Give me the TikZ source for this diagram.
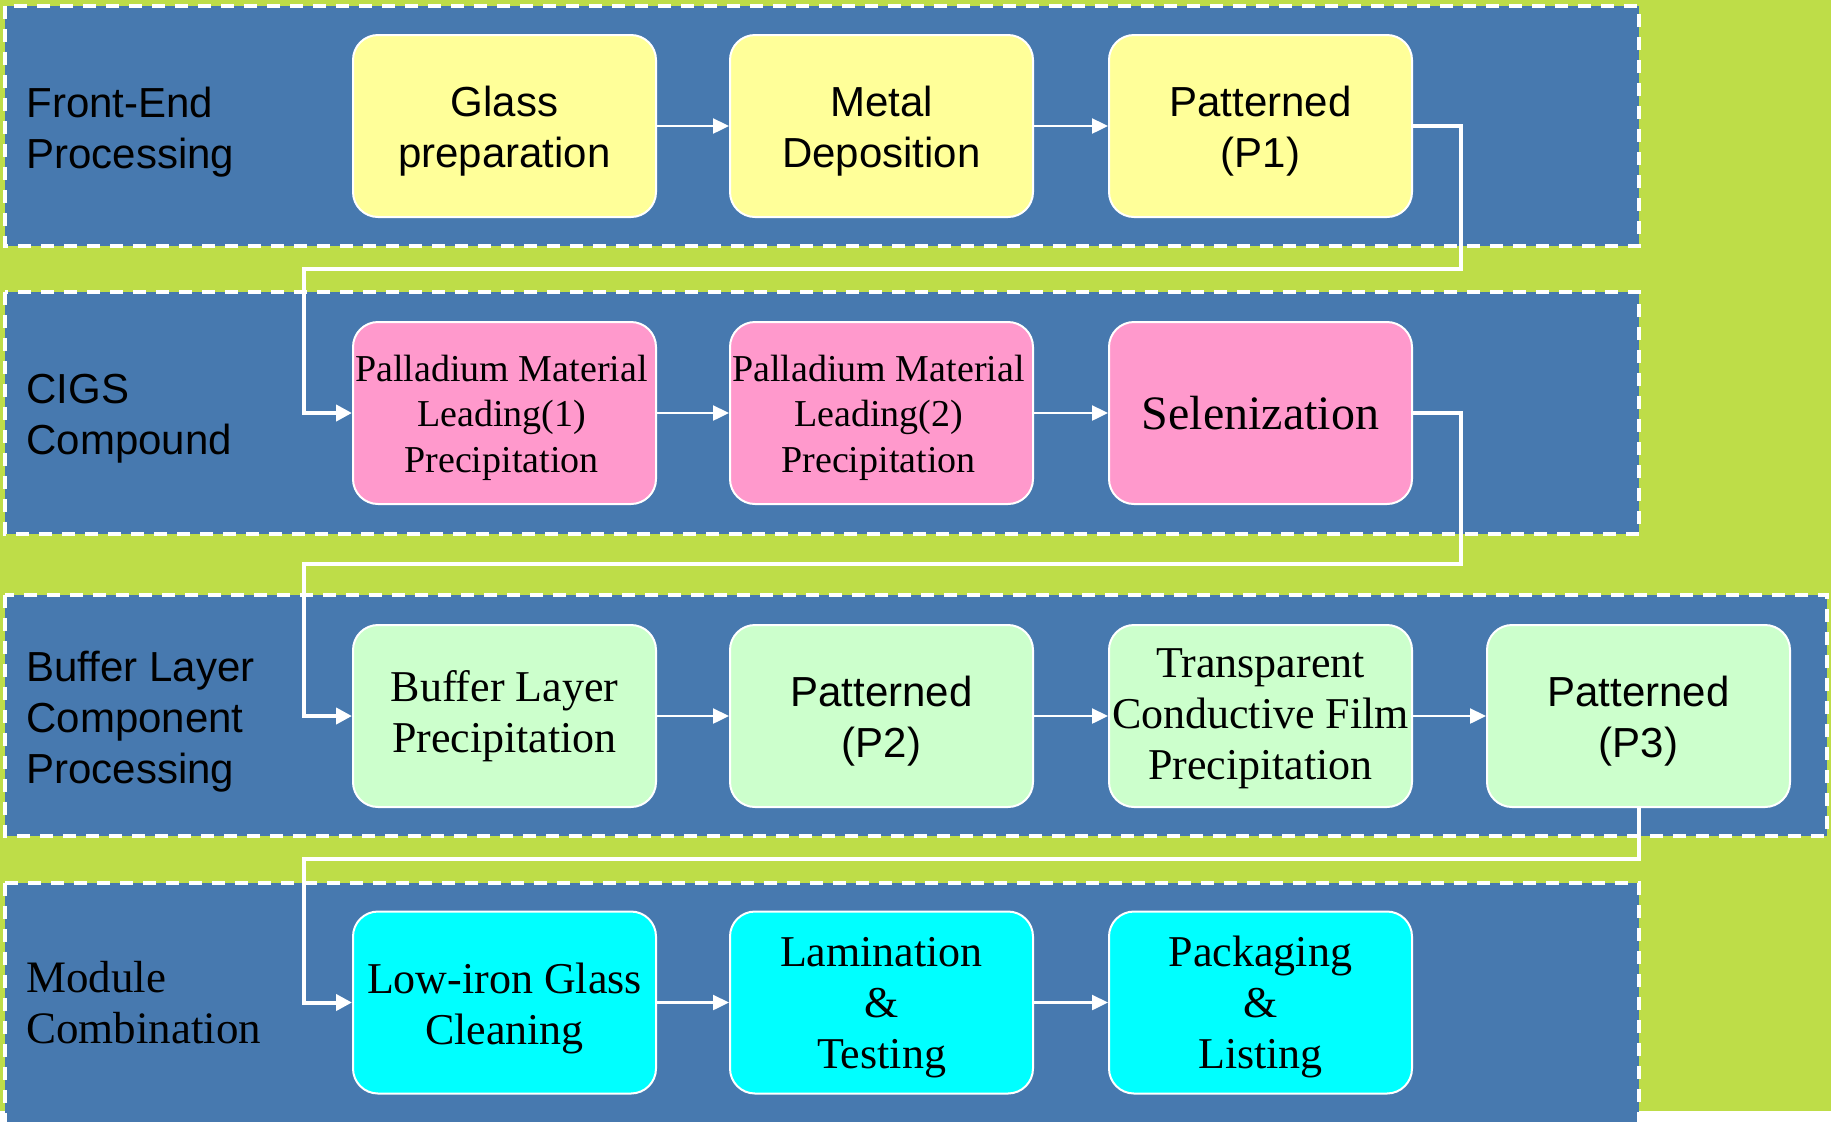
\documentclass[tikz,border=0pt]{standalone}
\usepackage{fontspec}
\setmainfont{Liberation Serif}
\setsansfont{Liberation Sans}
\usetikzlibrary{arrows.meta}
\definecolor{bggreen}{RGB}{190,221,72}
\definecolor{bandblue}{RGB}{71,121,175}
\definecolor{boxyellow}{RGB}{255,255,153}
\definecolor{boxpink}{RGB}{255,153,204}
\definecolor{boxgreen}{RGB}{204,255,204}
\definecolor{boxcyan}{RGB}{0,255,255}
\begin{document}
\begin{tikzpicture}[x=0.5pt,y=-0.5pt,
  band/.style={draw=white, fill=bandblue, line width=1.6pt, dash pattern=on 6.5pt off 5pt},
  stage/.style={draw=white, line width=1pt, rounded corners=12.5pt, minimum width=151.5pt, minimum height=91pt, inner sep=0pt},
  txt/.style={align=center, inner sep=0pt, text=black},
  sansA/.style={font=\sffamily\fontsize{21}{25.5}\selectfont},
  serifA/.style={font=\rmfamily\fontsize{22}{25.5}\selectfont},
  serifM/.style={font=\rmfamily\fontsize{22.5}{25.5}\selectfont},
  serifS/.style={font=\rmfamily\fontsize{19}{22.75}\selectfont},
  serifL/.style={font=\rmfamily\fontsize{24}{28}\selectfont},
  lbl/.style={anchor=west, align=left, inner sep=0pt, text=black},
  flow/.style={draw=white, line width=1.2pt, -{Triangle[length=8pt,width=7.5pt]}},
  route/.style={draw=white, line width=2pt, -{Triangle[length=8pt,width=8pt]}},
]
\useasboundingbox (0,0) rectangle (1831,1121);
\fill[white] (0,0) rectangle (1831,1121);
\fill[bggreen] (0,0) rectangle (1831,1111);

% bands
\path[band] (5,6) rectangle (1639,246);
\path[band] (5,292) rectangle (1639,534);
\path[band] (5,595) rectangle (1827,836);
\path[band] (5,883) rectangle (1639,1130);

% band labels
\node[lbl, sansA] (l1) at (26,132.5) {Front-End\\Processing};
\node[lbl, sansA] (l2) at (26,418.5) {CIGS\\Compound};
\node[lbl, sansA] (l3) at (26,721.5) {Buffer Layer\\Component\\Processing};
\node[lbl, serifM] (l4) at (26,1003) {Module\\Combination};

% boxes
\node[stage, fill=boxyellow] (glass) at (504.5,126) {};
\node[stage, fill=boxyellow] (metal) at (881.5,126) {};
\node[stage, fill=boxyellow] (p1) at (1260.5,126) {};
\node[stage, fill=boxpink] (pd1) at (504.5,413) {};
\node[stage, fill=boxpink] (pd2) at (881.5,413) {};
\node[stage, fill=boxpink] (sel) at (1260.5,413) {};
\node[stage, fill=boxgreen] (bl) at (504.5,716) {};
\node[stage, fill=boxgreen] (p2) at (881.5,716) {};
\node[stage, fill=boxgreen] (tcf) at (1260.5,716) {};
\node[stage, fill=boxgreen] (p3) at (1638.5,716) {};
\node[stage, fill=boxcyan] (lig) at (504.5,1002.5) {};
\node[stage, fill=boxcyan] (lam) at (881.5,1002.5) {};
\node[stage, fill=boxcyan] (pack) at (1260.5,1002.5) {};

% box texts
\node[txt, sansA] (glass-t) at ([yshift=-2.4pt]glass.center) {Glass\\preparation};
\node[txt, sansA] (metal-t) at ([yshift=-2.4pt]metal.center) {Metal\\Deposition};
\node[txt, sansA] (p1-t) at ([yshift=-2.4pt]p1.center) {Patterned\\(P1)};
\node[txt, serifS] (pd1-t) at ([xshift=-1.5pt,yshift=-2.4pt]pd1.center) {Palladium Material\\Leading(1)\\Precipitation};
\node[txt, serifS] (pd2-t) at ([xshift=-1.5pt,yshift=-2.4pt]pd2.center) {Palladium Material\\Leading(2)\\Precipitation};
\node[txt, serifL] (sel-t) at (sel.center) {Selenization};
\node[txt, serifA] (bl-t) at (bl.center) {Buffer Layer\\Precipitation};
\node[txt, sansA] (p2-t) at ([yshift=-2.4pt]p2.center) {Patterned\\(P2)};
\node[txt, serifA] (tcf-t) at ([yshift=-1.2pt]tcf.center) {Transparent\\Conductive Film\\Precipitation};
\node[txt, sansA] (p3-t) at ([yshift=-2.4pt]p3.center) {Patterned\\(P3)};
\node[txt, serifA] (lig-t) at ([yshift=-2.8pt]lig.center) {Low-iron Glass\\Cleaning};
\node[txt, serifA] (lam-t) at ([yshift=-2.4pt]lam.center) {Lamination\\\&\\Testing};
\node[txt, serifA] (pack-t) at ([yshift=-2.4pt]pack.center) {Packaging\\\&\\Listing};

% straight flows
\draw[flow] (glass) -- (metal);
\draw[flow] (metal) -- (p1);
\draw[flow] (pd1) -- (pd2);
\draw[flow] (pd2) -- (sel);
\draw[flow] (bl) -- (p2);
\draw[flow] (p2) -- (tcf);
\draw[flow] (tcf) -- (p3);
\draw[flow] (lig) -- (lam);
\draw[flow] (lam) -- (pack);

% routed flows
\draw[route] (p1.east) -- ++(48,0) |- (304,269) |- (pd1.west);
\draw[route] (sel.east) -- ++(48,0) |- (304,564) |- (bl.west);
\draw[route] (p3.south) |- (304,859) |- (lig.west);
\end{tikzpicture}
\end{document}
